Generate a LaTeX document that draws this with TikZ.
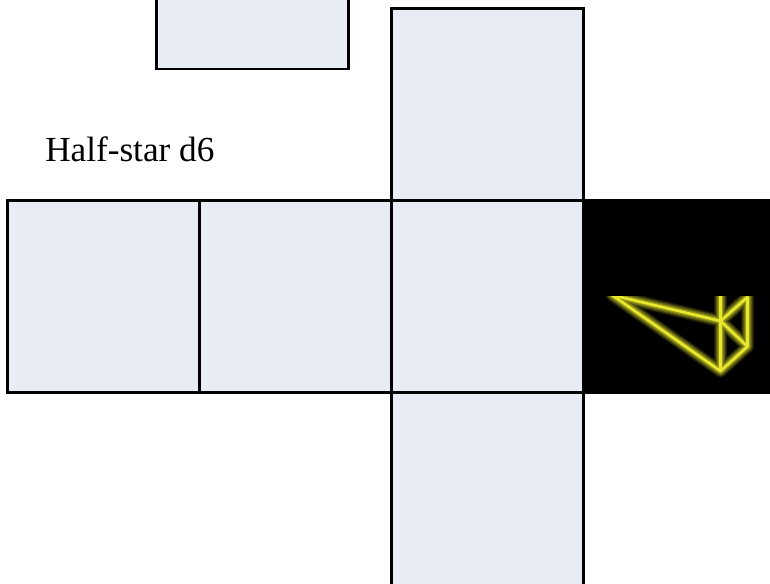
\documentclass[tikz,border=0pt]{standalone}
\usepackage{xcolor}
\usepackage{fontspec}
\setmainfont{Liberation Serif}
\usepackage{tikz}
\usetikzlibrary{positioning}
\definecolor{facefill}{HTML}{E8ECF5}
\definecolor{glowyellow}{HTML}{E8E82C}

\begin{document}
\begin{tikzpicture}[
    x=0.75pt, y=-0.75pt,
    node distance=0pt,
    face/.style={draw=black, fill=facefill, line width=2pt, minimum size=144pt, inner sep=0pt, outer sep=0pt},
    darkface/.style={face, fill=black},
    glow/.style={line join=round, line cap=round},
    title/.style={anchor=base west, inner sep=0pt, font=\fontsize{26.4}{30}\selectfont}
]
\clip (0,0) rectangle (770,583);
\fill[white] (0,0) rectangle (770,583);

% Faces of the net, laid out around the centre square.
\node[face] (front) at (487.8,296.5) {};
\node[face, left=of front] (left) {};
\node[face, left=of left] (back) {};
\node[darkface, right=of front] (right) {};
\node[face, above=of front] (top) {};
\node[face, below=of front, minimum height=150pt] (bottom) {};
\node[face] (flap) at (252.5,-27) {};

\node[title] (label) at (45,161) {Half-star d6};

% Glowing wireframe, cut off along its upper edge.
\begin{scope}
\clip (585,296.5) rectangle (770,391);
\coordinate (tip) at (612,295);
\coordinate (hub) at (720.5,321);
\coordinate (foot) at (720.5,371);
\coordinate (rim) at (747.5,346.5);
\coordinate (crown) at (747.5,297);
\foreach \w/\p in {13/10, 11/22, 9/36, 7/50, 5/66, 2.6/100} {
  \draw[glow, draw=glowyellow!\p!black, line width=\w*0.75pt] (tip) -- (hub) -- (crown) -- (rim) -- (foot) -- cycle;
  \draw[glow, draw=glowyellow!\p!black, line width=\w*0.75pt] (720.5,290) -- (foot) (hub) -- (rim);
}
\end{scope}
\end{tikzpicture}
\end{document}
